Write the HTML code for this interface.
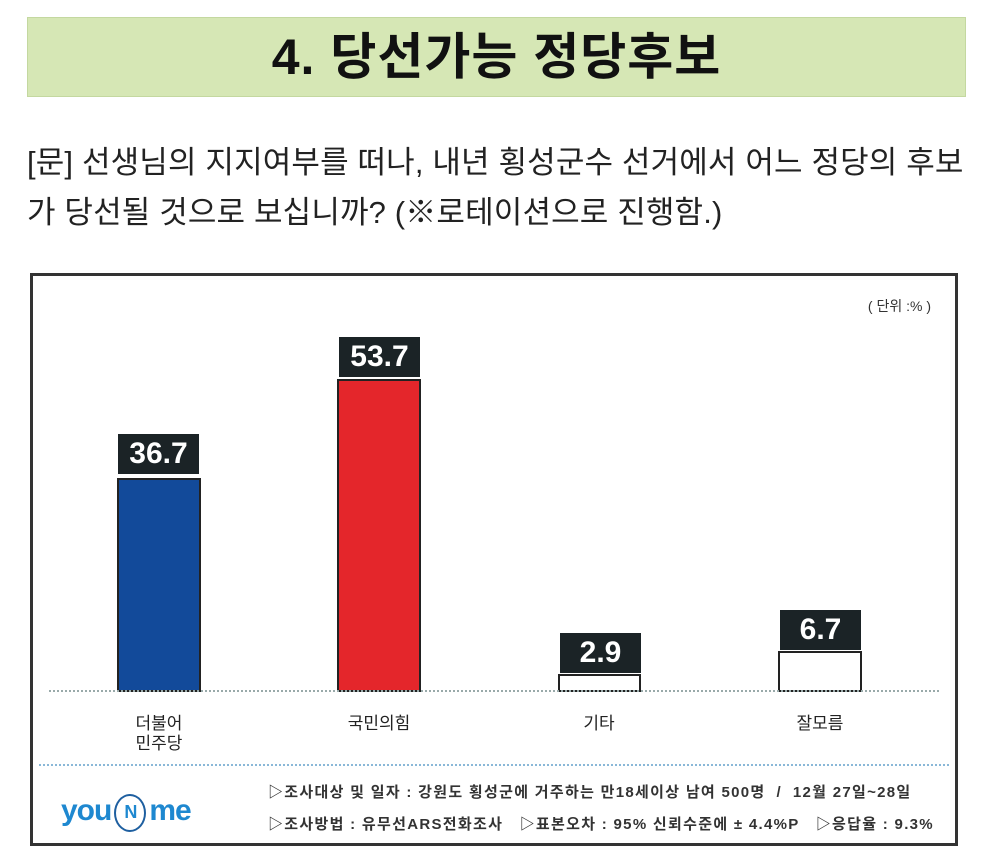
<!DOCTYPE html>
<html><head><meta charset="utf-8"><style>
body{margin:0;width:994px;height:864px;background:#fff;position:relative;font-family:"Liberation Sans","Noto Sans CJK KR",sans-serif;overflow:hidden}
.a{position:absolute}
.title{left:27px;top:17px;width:939px;height:80px;background:#d6e7b5;border:1px solid #c4d8a0;box-sizing:border-box;text-align:center;font-size:50px;font-weight:bold;line-height:78px;color:#111;letter-spacing:1px}
.q{left:27px;font-size:31px;color:#222;white-space:nowrap;letter-spacing:0.15px}
.frame{left:30px;top:273px;width:928px;height:573px;border:3px solid #333;box-sizing:border-box}
.bar{position:absolute;bottom:151px;border:2px solid #222;box-sizing:border-box}
.lab{position:absolute;background:#1b2326;color:#fff;font-weight:bold;font-size:30px;text-align:center;line-height:40px;height:40px;width:81px}
.cat{position:absolute;width:120px;text-align:center;font-size:17px;line-height:20px;color:#222}
.ft{font-size:15px;font-weight:bold;color:#333;white-space:nowrap;letter-spacing:1.3px}
</style></head><body>
<div class="a title">4. 당선가능 정당후보</div>
<div class="a q" style="top:137px">[문] 선생님의 지지여부를 떠나, 내년 횡성군수 선거에서 어느 정당의 후보</div>
<div class="a q" style="top:187px">가 당선될 것으로 보십니까? (※로테이션으로 진행함.)</div>
<div class="a frame">
<div class="a" style="right:24px;top:20px;font-size:14px;color:#333">( 단위 :% )</div>
<div class="bar" style="left:84px;width:84px;height:214px;background:#124a9a"></div>
<div class="bar" style="left:304px;width:84px;height:313px;background:#e4262b"></div>
<div class="bar" style="left:525px;width:83px;height:18px;background:#fff"></div>
<div class="bar" style="left:745px;width:84px;height:41px;background:#fff"></div>
<div class="lab" style="left:85px;top:158px">36.7</div>
<div class="lab" style="left:306px;top:61px">53.7</div>
<div class="lab" style="left:527px;top:357px">2.9</div>
<div class="lab" style="left:747px;top:334px">6.7</div>
<div class="a" style="left:16px;right:16px;top:414px;border-top:2px dotted #9aa"></div>
<div class="cat" style="left:66px;top:438px">더불어<br>민주당</div>
<div class="cat" style="left:286px;top:438px">국민의힘</div>
<div class="cat" style="left:506px;top:438px">기타</div>
<div class="cat" style="left:727px;top:438px">잘모름</div>
<div class="a" style="left:6px;right:6px;top:488px;border-top:2px dotted #8ab8d8"></div>
<div class="a" style="left:28px;top:518px;font-size:30px;font-weight:bold;color:#1e88d0;letter-spacing:-1px">you<span style="display:inline-block;border:2px solid #1e5fa0;border-radius:50%;width:28px;height:34px;line-height:32px;text-align:center;font-size:18px;margin:0 3px;vertical-align:2px">N</span>me</div>
<div class="a ft" style="left:235px;top:505px">▷조사대상 및 일자 : 강원도 횡성군에 거주하는 만18세이상 남여 500명 &nbsp;/ &nbsp;12월 27일~28일</div>
<div class="a ft" style="left:235px;top:537px">▷조사방법 : 유무선ARS전화조사 &nbsp;&nbsp;▷표본오차 : 95% 신뢰수준에 ± 4.4%P &nbsp;&nbsp;▷응답율 : 9.3%</div>
</div>
</body></html>
